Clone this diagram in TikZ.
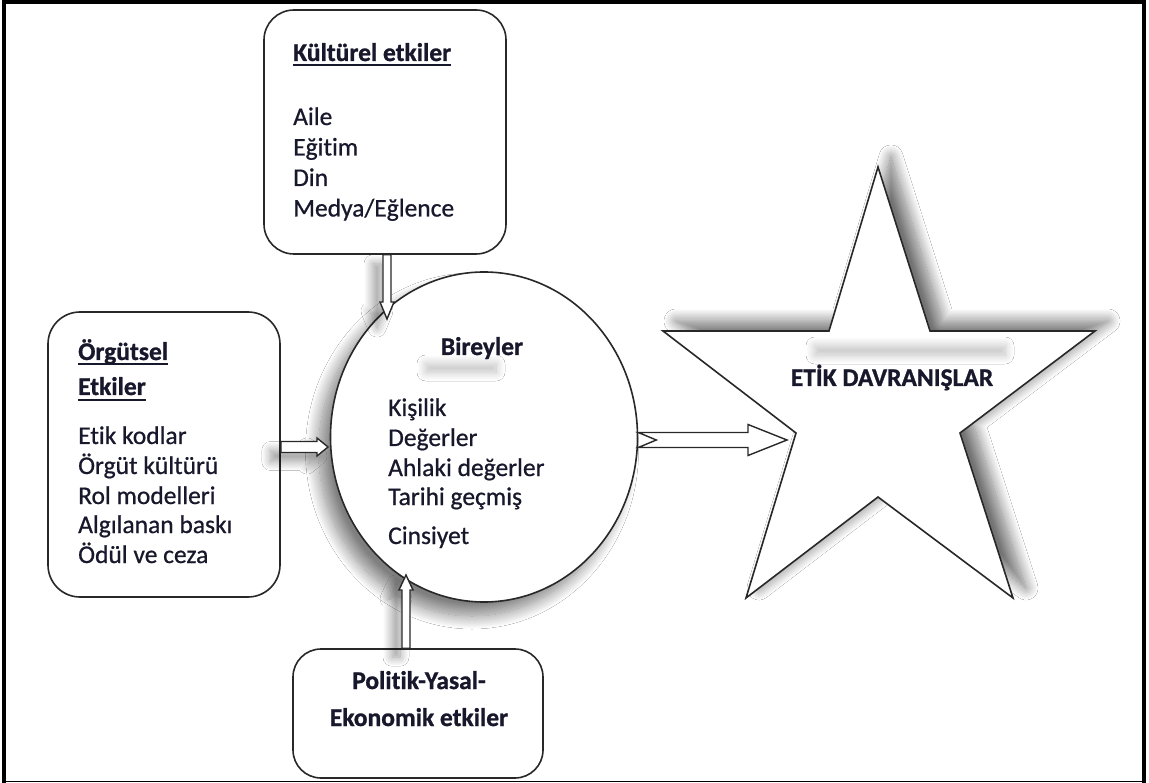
\documentclass[tikz,border=0pt]{standalone}
\usepackage{fontspec}
\setmainfont{Carlito}[Ligatures=NoCommon,UprightFeatures={FakeBold=0.7},BoldFeatures={FakeBold=1.0}]
\usetikzlibrary{shapes.geometric,shadows.blur,calc}
\definecolor{ink}{RGB}{24,24,44}
\definecolor{edge}{RGB}{40,40,40}
% block arrow: [style] from, to, half shaft, half head, head length, notch depth
\newcommand\blockarr[7][]{%
  \coordinate (ba-s) at (#2);
  \coordinate (ba-e) at (#3);
  \coordinate (ba-h) at ($(ba-e)!#6!(ba-s)$);
  \coordinate (ba-n) at ($(ba-s)!#7!(ba-e)$);
  \draw[arr,#1] ($(ba-s)!#4!90:(ba-e)$) -- ($(ba-h)!#4!90:(ba-e)$) -- ($(ba-h)!#5!90:(ba-e)$)
     -- (ba-e) -- ($(ba-h)!#5!-90:(ba-e)$) -- ($(ba-h)!#4!-90:(ba-e)$)
     -- ($(ba-s)!#4!-90:(ba-e)$) -- (ba-n) -- cycle;
}
\begin{document}
\begin{tikzpicture}[x=1pt,y=-1pt,
  rbox/.style={draw=edge,line width=1.6pt,fill=white,inner sep=0pt},
  txt/.style={anchor=base west,inner sep=0pt,text=ink,font=\fontsize{25.5}{30}\selectfont},
  btxt/.style={txt,font=\fontsize{25.5}{30}\selectfont\bfseries},
  uline/.style={draw=ink,line width=2pt},
  arr/.style={draw=edge,line width=1.4pt,fill=white,line join=miter},
  softsh/.style={blur shadow={shadow xshift=-10pt,shadow yshift=-9pt,shadow blur radius=9pt,shadow blur steps=14,shadow opacity=40}},
  smudge/.style={blur shadow={shadow xshift=0pt,shadow yshift=0pt,shadow blur radius=9pt,shadow blur steps=14,shadow opacity=25}},
]
\useasboundingbox (0,0) rectangle (1149,783);
\fill[white] (0,0) rectangle (1149,783);

% star
\draw[draw=edge,line width=1.6pt,fill=white,line join=miter,
      blur shadow={shadow xshift=13pt,shadow yshift=10pt,shadow blur radius=12pt,shadow blur steps=18,shadow opacity=55}]
  (878,167) coordinate (st1) -- (930,331) -- (1095,331) -- (960,433) -- (1013,598)
  -- (878,497) -- (746,598) -- (796,433) coordinate (stL) -- (663,331) -- (829,331) -- cycle;
\path[smudge] (815,346) rectangle (1005,355);
\node[btxt,anchor=base] (etik) at (892,386) {ETİK DAVRANIŞLAR};

% individuals ellipse
\node[ellipse,draw=edge,line width=1.6pt,fill=white,minimum width=307pt,minimum height=330pt,inner sep=0pt,
      blur shadow={shadow xshift=-12pt,shadow yshift=-14pt,shadow blur radius=13pt,shadow blur steps=18,shadow opacity=50}]
  (ind) at (484,437) {};
\path[smudge] (426,364) rectangle (496,372);
\node[btxt,anchor=base] (bir) at (482,355) {Bireyler};
\node[txt] (i1) at (388,416) {Kişilik};
\node[txt] (i2) at (388,446) {Değerler};
\node[txt] (i3) at (388,476) {Ahlaki değerler};
\node[txt] (i4) at (388,505) {Tarihi geçmiş};
\node[txt] (i5) at (388,544) {Cinsiyet};

% cultural box
\node[rbox,rounded corners=30pt,minimum width=242pt,minimum height=244pt] (kult) at (385,132) {};
\node[btxt] (kt) at (293,61) {Kültürel etkiler};
\draw[uline] ([yshift=-4pt]kt.base west) -- ([yshift=-4pt]kt.base east);
\node[txt] (k1) at (293,125) {Aile};
\node[txt] (k2) at (293,155.5) {Eğitim};
\node[txt] (k3) at (293,186) {Din};
\node[txt] (k4) at (293,216.5) {Medya/Eğlence};

% organisational box
\node[rbox,rounded corners=32pt,minimum width=232pt,minimum height=285pt] (org) at (164,454.5) {};
\node[btxt] (ot1) at (78,360) {Örgütsel};
\draw[uline] ([yshift=-4pt]ot1.base west) -- ([yshift=-4pt]ot1.base east);
\node[btxt] (ot2) at (78,395) {Etkiler};
\draw[uline] ([yshift=-5pt]ot2.base west) -- ([yshift=-5pt]ot2.base east);
\node[txt] (o1) at (78,444) {Etik kodlar};
\node[txt] (o2) at (78,474) {Örgüt kültürü};
\node[txt] (o3) at (78,504) {Rol modelleri};
\node[txt] (o4) at (78,533) {Algılanan baskı};
\node[txt] (o5) at (78,563) {Ödül ve ceza};

% political box
\node[rbox,rounded corners=28pt,minimum width=250pt,minimum height=129pt] (pol) at (418,713.5) {};
\node[btxt,anchor=base] (p1) at (419,689) {Politik-Yasal-};
\node[btxt,anchor=base] (p2) at (419,726) {Ekonomik etkiler};

% arrows
\coordinate (a1s) at ($(kult.south)+(2,0)$);
\coordinate (a1e) at ($(ind.center)+(-97,-118)$);
\blockarr[softsh]{a1s}{a1e}{4pt}{7pt}{17pt}{0pt}
\coordinate (a2s) at ($(org.east)+(0,-7.5)$);
\coordinate (a2e) at ($(ind.center)+(-156,10)$);
\blockarr[softsh]{a2s}{a2e}{5.5pt}{9pt}{11pt}{0pt}
\coordinate (a3s) at ($(pol.north)+(-12,0)$);
\coordinate (a3e) at ($(ind.center)+(-78,138)$);
\blockarr[softsh]{a3s}{a3e}{4pt}{7pt}{15pt}{0pt}
\coordinate (a4s) at ($(ind.east)+(0,3)$);
\coordinate (a4e) at ($(stL)+(-9,7)$);
\blockarr{a4s}{a4e}{7.5pt}{15.5pt}{39pt}{18pt}

% frame
\draw[line width=4pt] (4,783) -- (4,2.5) -- (1144,2.5) -- (1144,783);
\draw[line width=1.5pt] (4,781.5) -- (1144,781.5);
\end{tikzpicture}
\end{document}
